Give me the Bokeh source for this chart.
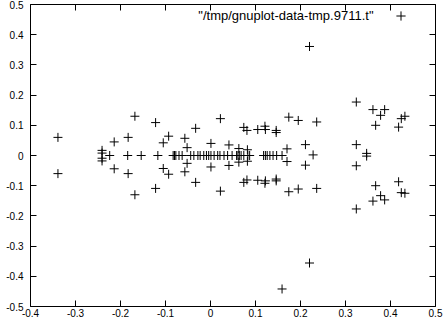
from bokeh.plotting import figure
from bokeh.models import (Range1d, LinearAxis, FixedTicker, Label, Legend, LegendItem,
                          CustomLabelingPolicy)
from bokeh.core.properties import value
from bokeh.embed import file_html
from bokeh.resources import INLINE

series_label = '"/tmp/gnuplot-data-tmp.9711.t"'

x_ticks = [-0.4, -0.3, -0.2, -0.1, 0, 0.1, 0.2, 0.3, 0.4, 0.5]
x_tick_labels = ["-0.4", "-0.3", "-0.2", "-0.1", "0", "0.1", "0.2", "0.3", "0.4", "0.5"]
y_ticks = [-0.5, -0.4, -0.3, -0.2, -0.1, 0, 0.1, 0.2, 0.3, 0.4, 0.5]
y_tick_labels = ["-0.5", "-0.4", "-0.3", "-0.2", "-0.1", "0", "0.1", "0.2", "0.3", "0.4", "0.5"]

# points lying on y = 0
zero_x = [-0.224, -0.184, -0.154, -0.117,
          -0.083, -0.080, -0.077, -0.070, -0.063, -0.044, -0.037, -0.028, -0.023,
          -0.015, -0.009, -0.004, 0.001, 0.008, 0.016, 0.021, 0.030, 0.038, 0.048,
          0.058, 0.061, 0.064, 0.068, 0.074, 0.083, 0.087,
          0.118, 0.122, 0.126, 0.132, 0.139, 0.147, 0.159]

# remaining points
pts_x = [-0.339, -0.339,
         -0.241, -0.241, -0.241, -0.241,
         -0.214, -0.214, -0.183, -0.183, -0.168, -0.168,
         -0.122, -0.122, -0.105, -0.105, -0.093, -0.093,
         -0.057, -0.057, -0.052, -0.052, -0.033, -0.033,
         0.001, 0.001, 0.022, 0.022, 0.041, 0.041, 0.063, 0.063,
         0.082, 0.082, 0.074, 0.074, 0.081, 0.081, 0.105, 0.105,
         0.121, 0.121, 0.122, 0.122, 0.146, 0.146, 0.146, 0.146,
         0.170, 0.170, 0.174, 0.174, 0.195, 0.195, 0.211, 0.211,
         0.228, 0.236, 0.236, 0.220, 0.220, 0.159,
         0.324, 0.324, 0.361, 0.361, 0.378, 0.378, 0.387, 0.387,
         0.367, 0.367, 0.418, 0.418, 0.424, 0.424, 0.432, 0.432,
         0.324, 0.324, 0.347, 0.347]
pts_y = [0.060, -0.060,
         0.017, 0.008, -0.009, -0.018,
         0.045, -0.044, 0.060, -0.060, 0.130, -0.130,
         0.109, -0.109, 0.042, -0.043, 0.064, -0.062,
         0.057, -0.054, 0.026, -0.026, 0.090, -0.089,
         0.040, -0.038, 0.122, -0.118, 0.035, -0.033, 0.023, -0.022,
         0.019, -0.019, 0.093, -0.089, 0.083, -0.081, 0.086, -0.082,
         0.097, -0.092, 0.086, -0.084, 0.083, -0.084, 0.076, -0.078,
         0.022, -0.020, 0.127, -0.120, 0.116, -0.111, 0.036, -0.032,
         0.002, 0.111, -0.109, 0.361, -0.356, -0.442,
         0.177, -0.177, 0.152, -0.151, 0.133, -0.133, 0.152, -0.147,
         0.100, -0.100, 0.094, -0.087, 0.122, -0.123, 0.130, -0.125,
         0.036, -0.034, 0.007, -0.002]

xs = pts_x + zero_x
ys = pts_y + [0.0] * len(zero_x)

FONT = "Liberation Sans"

p = figure(width=444, height=324,
           x_range=Range1d(-0.4, 0.5), y_range=Range1d(-0.5, 0.5),
           output_backend="svg", toolbar_location=None,
           min_border_left=30, min_border_right=9, min_border_top=4, min_border_bottom=18,
           background_fill_color="white", border_fill_color="white")
p.grid.visible = False
p.outline_line_color = "black"
p.outline_line_width = 1

r = p.scatter(xs, ys, marker="cross", size=9, line_color="black", line_width=1)

x_over = {t: l for t, l in zip(x_ticks, x_tick_labels)}
y_over = {t: l for t, l in zip(y_ticks, y_tick_labels)}

no_labels = CustomLabelingPolicy(code="""
for (const i of Array.from(indices)) { indices.unset(i) }
return indices
""")

def style(ax, ticks, over, show_labels, standoff):
    ax.ticker = FixedTicker(ticks=ticks)
    ax.major_label_overrides = over
    ax.major_tick_in = 6
    ax.major_tick_out = 0
    ax.minor_tick_in = 0
    ax.minor_tick_out = 0
    ax.axis_line_color = None
    ax.major_tick_line_color = "black"
    ax.major_label_text_font = FONT
    ax.major_label_text_color = "black"
    ax.major_label_standoff = standoff
    if show_labels:
        ax.major_label_text_font_size = "10px"
    else:
        ax.major_label_text_font_size = "0px"
        ax.major_label_policy = no_labels

style(p.xaxis[0], x_ticks, x_over, True, 2)
style(p.yaxis[0], y_ticks, y_over, True, 7)

ax_r = LinearAxis()
style(ax_r, y_ticks, y_over, False, 0)
p.add_layout(ax_r, "right")
ax_t = LinearAxis()
style(ax_t, x_ticks, x_over, False, 0)
p.add_layout(ax_t, "above")

key_text = Label(x=343, y=291, x_units="screen", y_units="screen", text=series_label,
                 text_align="right", text_baseline="middle", text_font_size="13px",
                 text_font=FONT, text_color="black")
p.add_layout(key_text)

legend = Legend(items=[LegendItem(label=value(""), renderers=[r])],
                location=(358.5, 279.5), padding=0, margin=0, spacing=0,
                border_line_color=None, background_fill_alpha=0,
                glyph_width=23, glyph_height=23, label_width=0, label_height=23,
                label_standoff=0, label_text_font_size="1px")
p.add_layout(legend)

open("out.html", "w").write(file_html(p, INLINE))
